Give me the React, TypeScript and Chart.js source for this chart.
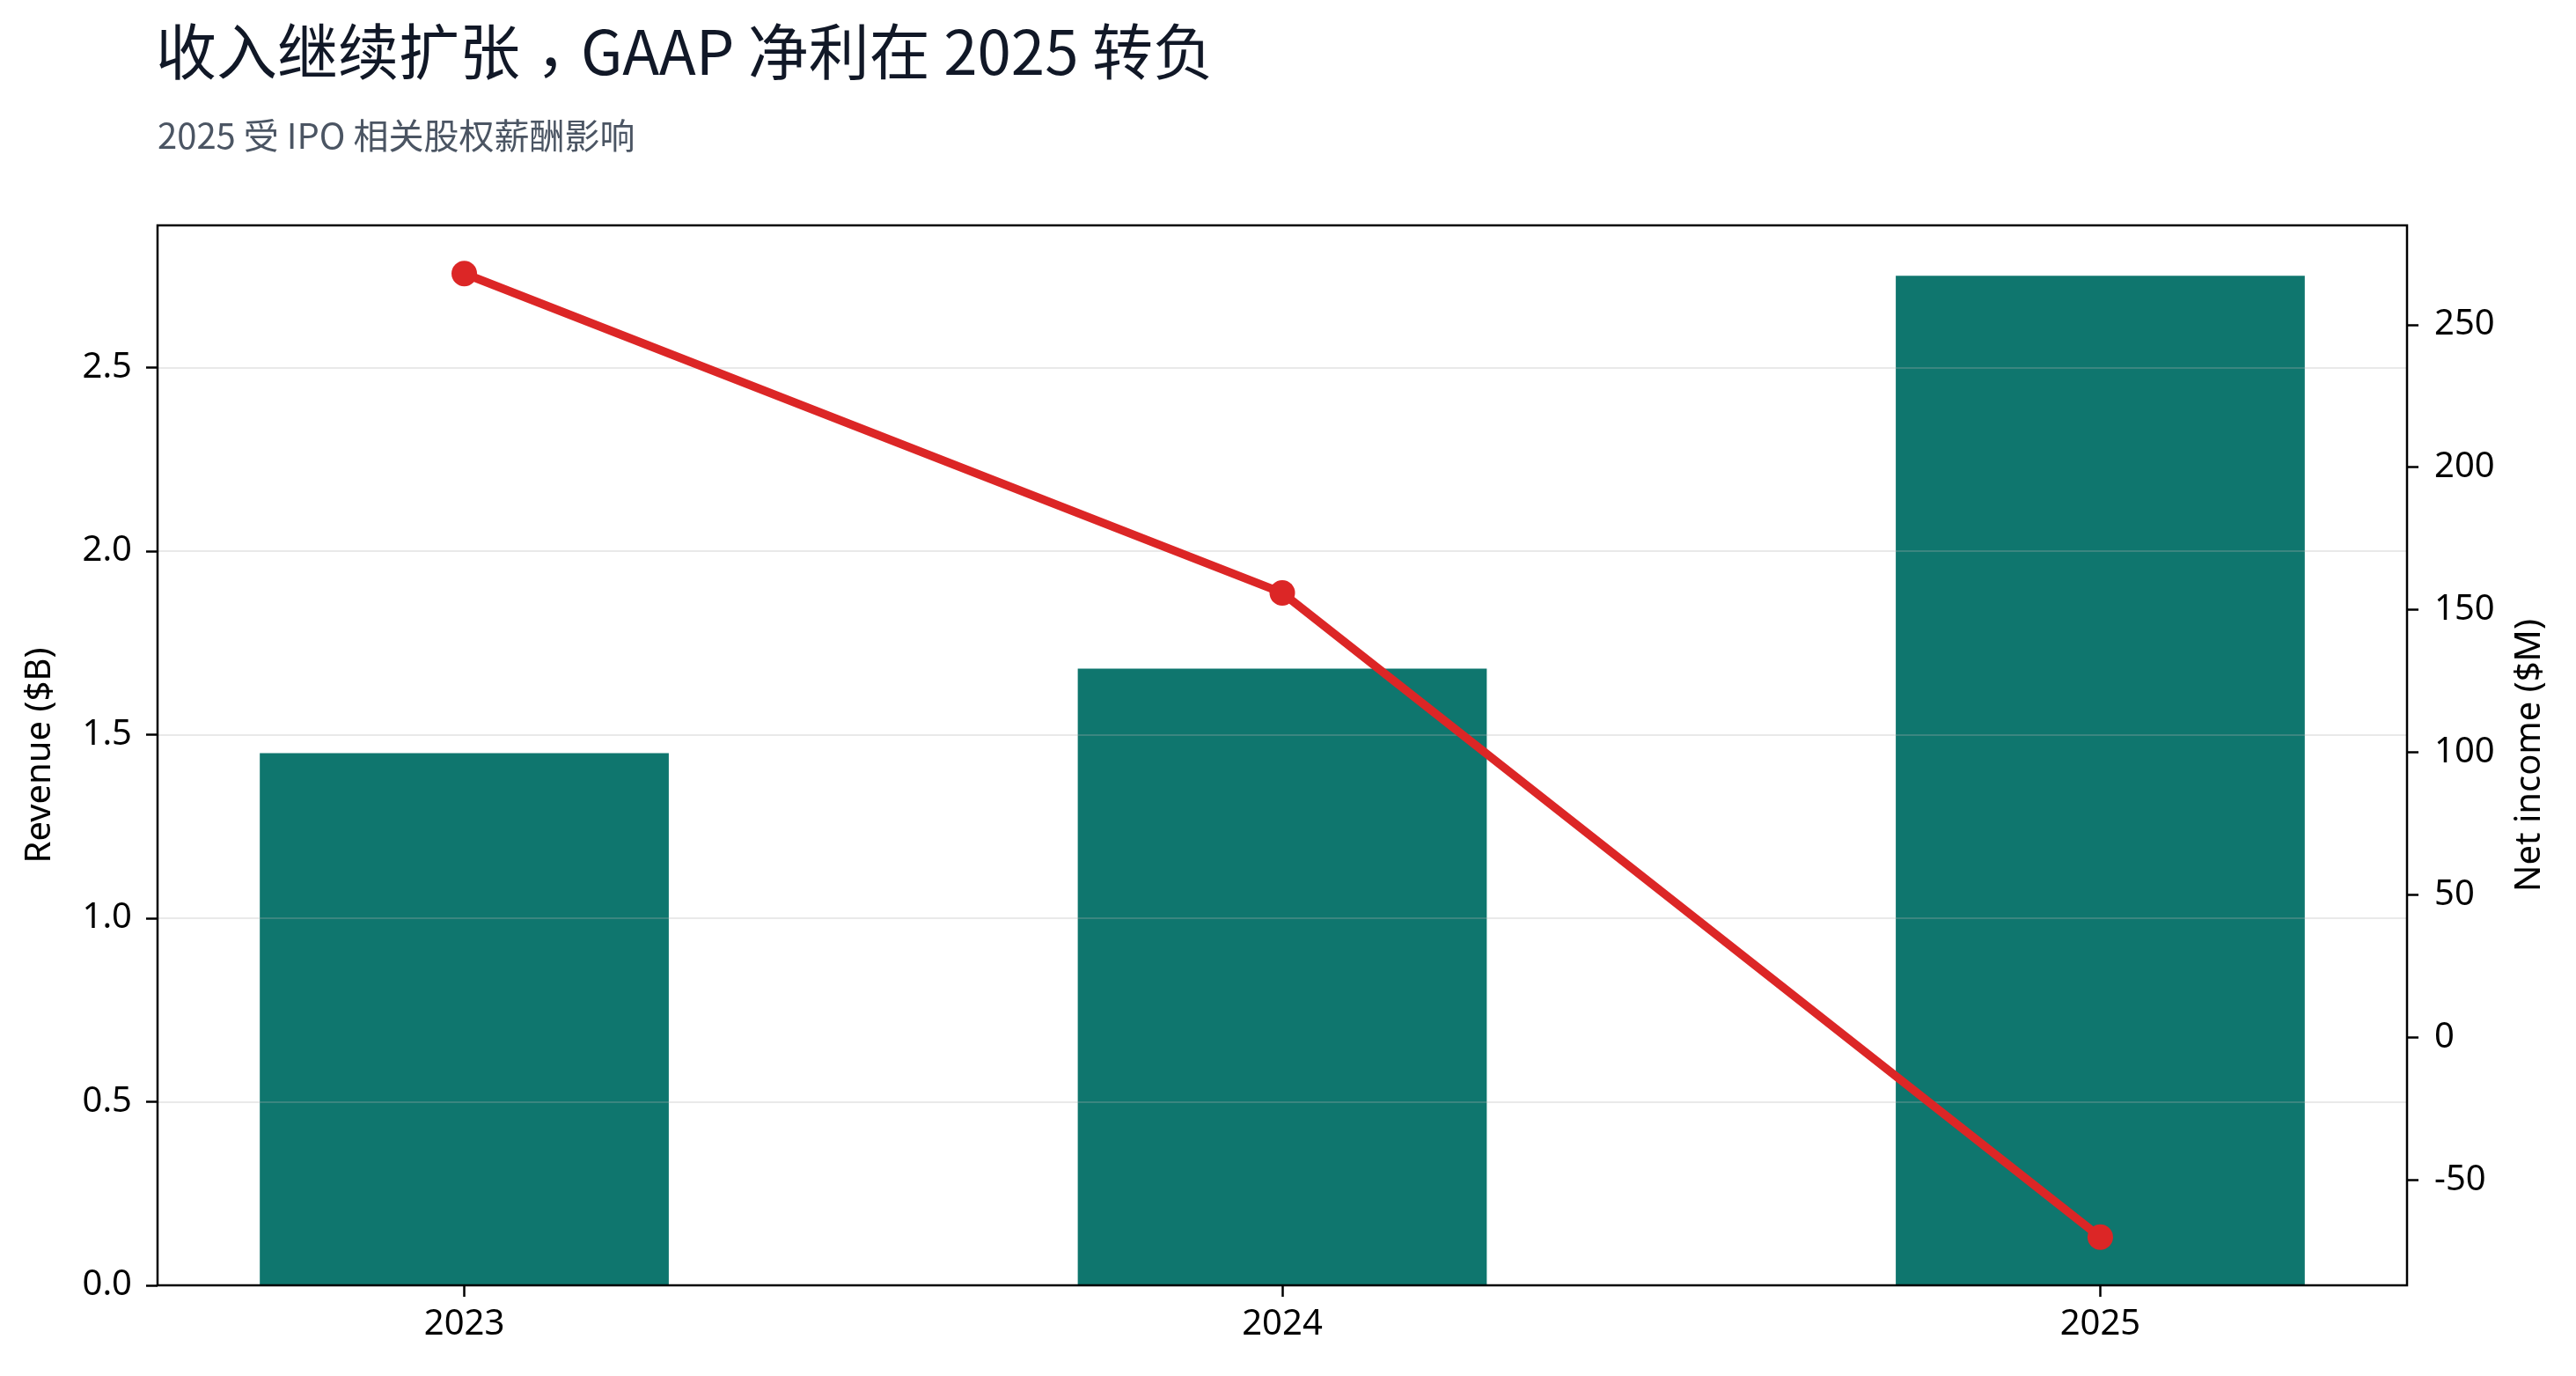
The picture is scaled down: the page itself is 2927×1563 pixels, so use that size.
import React, { useEffect, useRef } from 'react';
import { Chart, registerables } from 'chart.js';

Chart.register(...registerables);

const years = ['2023', '2024', '2025'];
const revenue = [1.45, 1.68, 2.75];
const netIncome = [268, 156, -70];
const revenueTicks = [0, 0.5, 1.0, 1.5, 2.0, 2.5];
const incomeTicks = [-50, 0, 50, 100, 150, 200, 250];

const TITLE_A = '收入继续扩张';
const TITLE_COMMA = '，';
const TITLE_B = 'GAAP 净利在 2025 转负';
const SUBTITLE = '2025 受 IPO 相关股权薪酬影响';
const LEFT_TITLE = 'Revenue ($B)';
const RIGHT_TITLE = 'Net income ($M)';

const W = 2927;
const H = 1563;
const BAR_FRACTION = 0.5;

export default function App() {
  const ref = useRef<HTMLCanvasElement | null>(null);

  useEffect(() => {
    if (!ref.current) return;
    const xlo = -BAR_FRACTION / 2;
    const xhi = years.length - 1 + BAR_FRACTION / 2;
    const xpad = 0.05 * (xhi - xlo);
    const rmax = Math.max(...revenue) * 1.05;
    const imin = Math.min(...netIncome);
    const imax = Math.max(...netIncome);
    const ipad = 0.05 * (imax - imin);
    const fontFamily = "'Noto Sans', sans-serif";
    const font = { family: fontFamily, size: 40 };

    const gridPlugin = {
      id: 'overGrid',
      beforeDatasetDraw(chart: any, args: any) {
        if (args.index !== 0) return;
        const { ctx, chartArea } = chart;
        const y = chart.scales.y;
        ctx.save();
        ctx.strokeStyle = 'rgba(175,175,175,0.28)';
        ctx.lineWidth = 2;
        revenueTicks.forEach((v) => {
          if (v === 0) return;
          const py = Math.round(y.getPixelForValue(v));
          ctx.beginPath();
          ctx.moveTo(chartArea.left, py);
          ctx.lineTo(chartArea.right, py);
          ctx.stroke();
        });
        ctx.restore();
      },
    };
    const framePlugin = {
      id: 'frame',
      afterDraw(chart: any) {
        const { ctx, chartArea: a } = chart;
        ctx.save();
        ctx.strokeStyle = '#000';
        ctx.lineWidth = 2.5;
        ctx.strokeRect(a.left, a.top, a.right - a.left, a.bottom - a.top);
        // right axis title, reading bottom-to-top
        const s = chart.scales.y1;
        ctx.translate(s.right - 52, (a.top + a.bottom) / 2);
        ctx.rotate(-Math.PI / 2);
        ctx.fillStyle = '#000';
        ctx.font = `40px ${fontFamily}`;
        ctx.textAlign = 'center';
        ctx.textBaseline = 'middle';
        ctx.fillText(RIGHT_TITLE, 0, 0);
        ctx.restore();
      },
    };

    const chart = new Chart(ref.current, {
      type: 'bar',
      data: {
        datasets: [
          {
            type: 'line',
            label: RIGHT_TITLE,
            data: netIncome.map((v, i) => ({ x: i, y: v })),
            yAxisID: 'y1',
            xAxisID: 'x',
            borderColor: '#dc2626',
            backgroundColor: '#dc2626',
            borderWidth: 9.5,
            pointRadius: 14.5,
            pointBorderWidth: 0,
            pointBackgroundColor: '#dc2626',
            tension: 0,
          } as any,
          {
            type: 'bar',
            label: LEFT_TITLE,
            data: revenue.map((v, i) => ({ x: i, y: v })),
            yAxisID: 'y',
            xAxisID: 'x',
            backgroundColor: '#0f766e',
            borderWidth: 0,
            categoryPercentage: 1,
            barPercentage: BAR_FRACTION,
          } as any,
        ],
      },
      options: {
        responsive: false,
        animation: false,
        layout: { padding: { top: 256, left: 0, right: 0, bottom: 0 } },
        plugins: {
          legend: { display: false },
          tooltip: { enabled: false },
          title: { display: false },
        },
        scales: {
          x: {
            type: 'linear',
            position: 'bottom',
            min: xlo - xpad,
            max: xhi + xpad,
            offset: false,
            afterBuildTicks: (s: any) => {
              s.ticks = years.map((_, i) => ({ value: i }));
            },
            afterFit: (s: any) => {
              s.height = 103;
            },
            ticks: {
              callback: (v: any) => years[Math.round(Number(v))] ?? '',
              font,
              color: '#000',
              padding: 8,
              maxRotation: 0,
              autoSkip: false,
            },
            grid: {
              offset: false,
              drawOnChartArea: false,
              drawTicks: true,
              tickLength: 13,
              tickWidth: 2.5,
              tickColor: '#000',
            },
            border: { display: false },
          },
          y: {
            type: 'linear',
            position: 'left',
            min: 0,
            max: rmax,
            afterBuildTicks: (s: any) => {
              s.ticks = revenueTicks.map((v) => ({ value: v }));
            },
            afterFit: (s: any) => {
              s.width = 179;
            },
            ticks: {
              callback: (v: any) => Number(v).toFixed(1),
              font,
              color: '#000',
              padding: 16,
            },
            grid: {
              drawOnChartArea: false,
              drawTicks: true,
              tickLength: 13,
              tickWidth: 2.5,
              tickColor: '#000',
            },
            border: { display: false },
            title: {
              display: true,
              text: LEFT_TITLE,
              font,
              color: '#000',
              padding: { top: 22, bottom: 0 },
            },
          },
          y1: {
            type: 'linear',
            position: 'right',
            min: imin - ipad,
            max: imax + ipad,
            afterBuildTicks: (s: any) => {
              s.ticks = incomeTicks.map((v) => ({ value: v }));
            },
            afterFit: (s: any) => {
              s.width = 192;
            },
            ticks: {
              callback: (v: any) => String(v),
              font,
              color: '#000',
              padding: 18,
            },
            grid: {
              drawOnChartArea: false,
              drawTicks: true,
              tickLength: 13,
              tickWidth: 2.5,
              tickColor: '#000',
            },
            border: { display: false },
            title: { display: false },
          },
        },
      } as any,
      plugins: [gridPlugin, framePlugin],
    });
    return () => chart.destroy();
  }, []);

  return (
    <div style={{ position: 'absolute', left: 0, top: 0, width: W, height: H, background: '#fff' }}>
      <canvas ref={ref} width={W} height={H} style={{ display: 'block', width: W, height: H }} />
      <div
        style={{
          position: 'absolute',
          left: 177,
          top: 21,
          fontFamily: "'Noto Sans CJK SC', 'Noto Sans', sans-serif",
          fontSize: 69,
          lineHeight: 1,
          color: '#111827',
          whiteSpace: 'nowrap',
        }}
      >
        {TITLE_A}
        <span
          style={{
            fontFamily: "'Noto Sans CJK TC', 'Noto Sans CJK SC', sans-serif",
            position: 'relative',
            top: '0.24em',
          }}
        >
          {TITLE_COMMA}
        </span>
        {TITLE_B}
      </div>
      <div
        style={{
          position: 'absolute',
          left: 179,
          top: 132,
          fontFamily: "'Noto Sans CJK SC', 'Noto Sans', sans-serif",
          fontSize: 40,
          lineHeight: 1,
          color: '#4b5563',
          whiteSpace: 'nowrap',
        }}
      >
        {SUBTITLE}
      </div>
    </div>
  );
}
